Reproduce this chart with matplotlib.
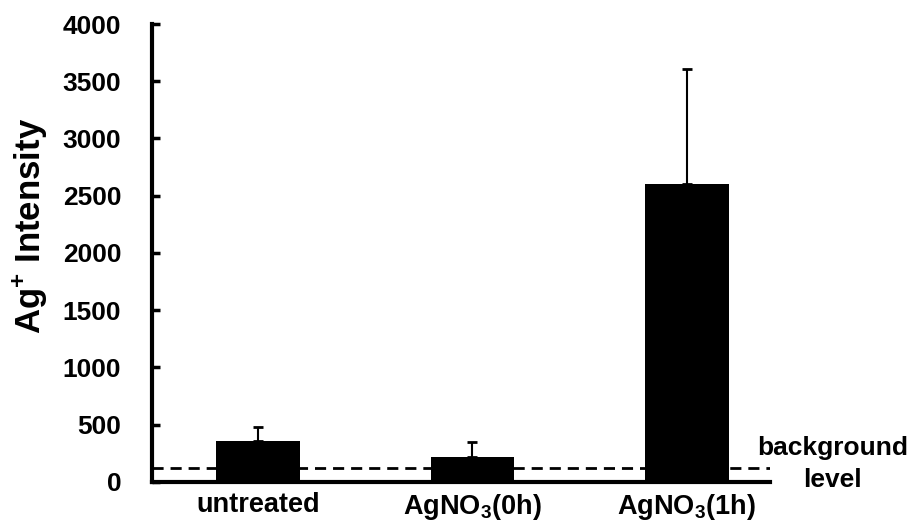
import matplotlib.pyplot as plt
import numpy as np

plt.rcParams['font.family'] = ['Liberation Sans', 'DejaVu Sans']
plt.rcParams['mathtext.fontset'] = 'custom'
plt.rcParams['mathtext.rm'] = 'Liberation Sans:bold'
plt.rcParams['mathtext.bf'] = 'Liberation Sans:bold'
plt.rcParams['mathtext.default'] = 'rm'

groups = ['untreated', 'AgNO$_3$(0h)', 'AgNO$_3$(1h)']
intensity = [358, 215, 2600]
err_up = [122, 130, 1005]
background = 120

fig = plt.figure(figsize=(9.15, 5.22), dpi=100)
ax = fig.add_axes([0.166, 0.077, 0.676, 0.877])

x = np.arange(len(groups))
ax.axhline(background, color='black', lw=2, ls=(0, (4, 2.5)), zorder=1)
ax.bar(x, intensity, width=0.39, color='black', zorder=2)
ax.errorbar(x, intensity, yerr=[np.zeros(len(x)), err_up], fmt='none',
            ecolor='black', elinewidth=1.5, capsize=3.5, capthick=2, zorder=3)

ax.set_xlim(-0.495, 2.39)
ax.set_ylim(0, 4000)
ax.set_yticks(np.arange(0, 4001, 500))
ax.set_xticks(x)
ax.set_xticklabels(groups, fontsize=19.5, fontweight='bold')
ax.tick_params(axis='x', length=0, pad=7)
ax.tick_params(axis='y', direction='in', length=6, width=2.5, labelsize=19, pad=22)
for lab in ax.get_yticklabels():
    lab.set_fontweight('bold')

for side in ['top', 'right']:
    ax.spines[side].set_visible(False)
for side in ['left', 'bottom']:
    ax.spines[side].set_linewidth(3)

ax.set_ylabel('Ag$^{+}$ Intensity', fontsize=25, fontweight='bold')
ax.yaxis.set_label_coords(-0.166, 0.56)

ax.text(1.1, 0.074, 'background', transform=ax.transAxes, ha='center', va='center',
        fontsize=19, fontweight='bold')
ax.text(1.1, 0.004, 'level', transform=ax.transAxes, ha='center', va='center',
        fontsize=19, fontweight='bold')

fig.savefig('out.png', dpi=100)
